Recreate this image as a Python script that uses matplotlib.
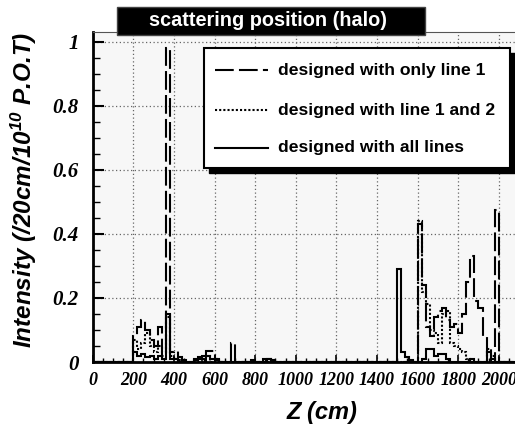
"""Scattering position (halo) - Z distribution for three line designs"""

import matplotlib.pyplot as plt
import numpy as np
from matplotlib.lines import Line2D
from matplotlib.patches import Rectangle
from matplotlib.ticker import MultipleLocator

# bin width 20 cm, only non-empty bins listed (bin low edge, content)
bin_width = 20
z_max = 2080

only1_z = [200, 220, 240, 260, 280, 300, 320, 340, 360, 380, 400, 420, 440,
           500, 520, 560, 580, 600, 680, 860, 880,
           1600, 1620, 1640, 1660, 1680, 1700, 1720, 1740, 1760, 1780, 1800,
           1820, 1840, 1860, 1880, 1900, 1920, 1940, 1980]
only1_v = [0.08, 0.11, 0.13, 0.10, 0.07, 0.05, 0.11, 0.02, 0.98, 0.03, 0.035, 0.015, 0.005,
           0.01, 0.015, 0.035, 0.035, 0.01, 0.06, 0.01, 0.005,
           0.43, 0.24, 0.11, 0.08, 0.14, 0.16, 0.17, 0.13, 0.11, 0.12, 0.09,
           0.15, 0.25, 0.33, 0.19, 0.17, 0.08, 0.02, 0.475]

line12_z = [200, 220, 240, 260, 280, 300, 320, 340, 360, 380, 400, 420,
            540, 560, 600,
            1600, 1620, 1640, 1660, 1680, 1700, 1720, 1740, 1760, 1780, 1800,
            1820, 1840, 1940, 1960]
line12_v = [0.07, 0.04, 0.06, 0.09, 0.05, 0.03, 0.05, 0.03, 0.14, 0.02, 0.01, 0.005,
            0.01, 0.02, 0.01,
            0.44, 0.22, 0.18, 0.10, 0.09, 0.06, 0.15, 0.16, 0.06, 0.05, 0.04,
            0.03, 0.01, 0.04, 0.02]

all_z = [200, 220, 240, 260, 280, 300, 320, 340, 360, 380, 400,
         500, 520, 540, 560, 580, 600, 780, 840, 860,
         1500, 1520, 1540, 1560, 1620, 1640, 1660, 1680, 1700, 1720, 1740,
         1860, 1940, 1960]
all_v = [0.03, 0.02, 0.025, 0.015, 0.02, 0.01, 0.02, 0.01, 0.15, 0.01, 0.01,
         0.005, 0.01, 0.02, 0.02, 0.01, 0.005, 0.005, 0.01, 0.01,
         0.29, 0.03, 0.015, 0.005, 0.01, 0.04, 0.04, 0.02, 0.025, 0.025, 0.01,
         0.01, 0.03, 0.01]

labels = ['designed with only line 1', 'designed with line 1 and 2',
          'designed with all lines']
styles = [(0, (9, 2.5)), (0, (1, 1)), '-']


def fill_hist(z, v):
    """Turn (bin edge, content) pairs into a full histogram"""
    h = np.zeros(z_max // bin_width)
    h[np.array(z) // bin_width] = v
    return h


plt.rcParams['font.family'] = 'Liberation Sans'
plt.rcParams['mathtext.fontset'] = 'custom'
plt.rcParams['mathtext.rm'] = 'Liberation Sans:bold:italic'
plt.rcParams['mathtext.it'] = 'Liberation Sans:bold:italic'
plt.rcParams['mathtext.default'] = 'rm'

fig = plt.figure(figsize=(5.15, 4.25), dpi=100)
ax = fig.add_axes([92.7 / 515, 63 / 425, 1 - 92.7 / 515, 330 / 425])
ax.set_facecolor('#f7f7f7')

edges = np.arange(0, z_max + 1, bin_width)
for z, v, ls in zip([only1_z, line12_z, all_z], [only1_v, line12_v, all_v], styles):
    ax.stairs(fill_hist(z, v), edges, color='black', lw=1.5, linestyle=ls, zorder=3)

ax.set_xlim(0, z_max)
ax.set_ylim(0, 1.031)

ax.xaxis.set_major_locator(MultipleLocator(200))
ax.xaxis.set_minor_locator(MultipleLocator(50))
ax.yaxis.set_major_locator(MultipleLocator(0.2))
ax.yaxis.set_minor_locator(MultipleLocator(0.05))
ax.set_yticks(np.arange(0, 1.01, 0.2))
ax.set_yticklabels(['0', '0.2', '0.4', '0.6', '0.8', '1'])
ax.grid(True, which='major', color='#666666', lw=0.9, linestyle=(0, (1, 2)))

ax.tick_params(axis='y', which='major', direction='in', length=8, width=1.5, pad=10)
ax.tick_params(axis='y', which='minor', direction='in', length=5, width=1)
ax.tick_params(axis='x', which='major', direction='in', length=5, width=1.2, pad=7)
ax.tick_params(axis='x', which='minor', direction='in', length=3, width=1)
for lab in ax.get_xticklabels():
    lab.set_fontfamily('Liberation Serif')
    lab.set_fontweight('bold')
    lab.set_fontstyle('italic')
    lab.set_fontsize(13)
for lab in ax.get_yticklabels():
    lab.set_fontfamily('Liberation Serif')
    lab.set_fontweight('bold')
    lab.set_fontstyle('italic')
    lab.set_fontsize(15)

ax.spines['left'].set_linewidth(2)
ax.spines['bottom'].set_linewidth(2)
ax.spines['top'].set_linewidth(0.8)
ax.spines['top'].set_color('#555555')
ax.spines['right'].set_visible(False)

ax.set_ylabel('Intensity (/20cm/10$^{10}$ P.O.T)', fontsize=17.5,
              fontweight='bold', fontstyle='italic')
ax.yaxis.set_label_coords(-0.127, 0.52)
ax.set_xlabel('Z (cm)', fontsize=17, fontweight='bold', fontstyle='italic')
ax.xaxis.set_label_coords(0.543, -0.118)

# title box
fig.add_artist(Rectangle((117 / 515, 1 - 35 / 425), 308 / 515, 28 / 425,
                         transform=fig.transFigure, facecolor='black',
                         edgecolor='#444444', lw=1, zorder=5))
fig.text(268 / 515, 1 - 21 / 425, 'scattering position (halo)', color='white',
         fontsize=14.3, fontweight='bold', ha='center', va='center', zorder=6)

# legend box with black shadow
lx0, lx1, ly0, ly1 = 204, 510, 48, 168
fig.add_artist(Rectangle(((lx0 + 5) / 515, 1 - (ly1 + 5) / 425), (lx1 - lx0) / 515,
                         (ly1 - ly0) / 425, transform=fig.transFigure,
                         facecolor='black', edgecolor='black', zorder=5))
fig.add_artist(Rectangle((lx0 / 515, 1 - ly1 / 425), (lx1 - lx0) / 515,
                         (ly1 - ly0) / 425, transform=fig.transFigure,
                         facecolor='white', edgecolor='black', lw=1.5, zorder=6))
for ypix, lab, ls in zip([70, 110, 148], labels, styles):
    yf = 1 - ypix / 425
    fig.add_artist(Line2D([215 / 515, 268 / 515], [yf, yf], transform=fig.transFigure,
                          color='black', lw=1.5, linestyle=ls, zorder=7))
    fig.text(278 / 515, yf, lab, fontsize=12.6, fontweight='bold',
             ha='left', va='center', zorder=7)

fig.savefig('out.png', dpi=100)
